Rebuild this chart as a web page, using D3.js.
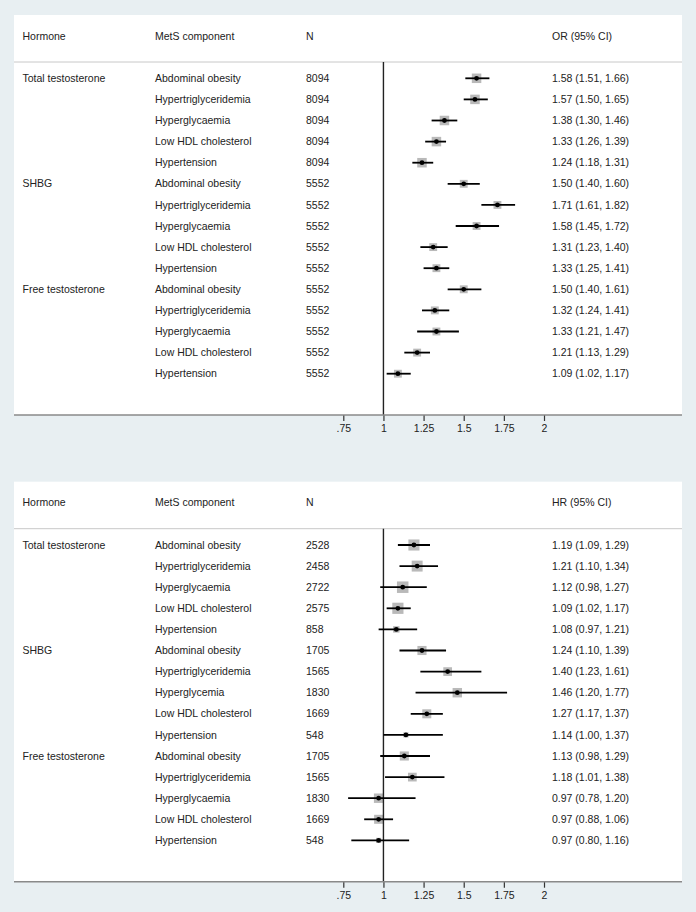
<!DOCTYPE html>
<html>
<head>
<meta charset="utf-8">
<script src="https://cdn.jsdelivr.net/npm/d3@7"></script>
<style>
  html, body { margin: 0; padding: 0; background: #e8eff2; }
  svg { display: block; }
  text { font-family: "Liberation Sans", Arial, sans-serif; font-size: 10.5px; fill: #222; }
</style>
</head>
<body>
<svg id="chart" width="696" height="912"></svg>
<script>
// ---------- data ----------
const hormones = ["Total testosterone", "SHBG", "Free testosterone"];
const componentsTop = ["Abdominal obesity", "Hypertriglyceridemia", "Hyperglycaemia", "Low HDL cholesterol", "Hypertension"];
const componentsBottom = [
  "Abdominal obesity", "Hypertriglyceridemia", "Hyperglycaemia", "Low HDL cholesterol", "Hypertension",
  "Abdominal obesity", "Hypertriglyceridemia", "Hyperglycemia", "Low HDL cholesterol", "Hypertension",
  "Abdominal obesity", "Hypertriglyceridemia", "Hyperglycaemia", "Low HDL cholesterol", "Hypertension"
];

// Top panel: odds ratios
const nTop = [8094, 8094, 8094, 8094, 8094, 5552, 5552, 5552, 5552, 5552, 5552, 5552, 5552, 5552, 5552];
const orEst = [1.58, 1.57, 1.38, 1.33, 1.24, 1.50, 1.71, 1.58, 1.31, 1.33, 1.50, 1.32, 1.33, 1.21, 1.09];
const orLow = [1.51, 1.50, 1.30, 1.26, 1.18, 1.40, 1.61, 1.45, 1.23, 1.25, 1.40, 1.24, 1.21, 1.13, 1.02];
const orHigh = [1.66, 1.65, 1.46, 1.39, 1.31, 1.60, 1.82, 1.72, 1.40, 1.41, 1.61, 1.41, 1.47, 1.29, 1.17];

// Bottom panel: hazard ratios
const nBottom = [2528, 2458, 2722, 2575, 858, 1705, 1565, 1830, 1669, 548, 1705, 1565, 1830, 1669, 548];
const hrEst = [1.19, 1.21, 1.12, 1.09, 1.08, 1.24, 1.40, 1.46, 1.27, 1.14, 1.13, 1.18, 0.97, 0.97, 0.97];
const hrLow = [1.09, 1.10, 0.98, 1.02, 0.97, 1.10, 1.23, 1.20, 1.17, 1.00, 0.98, 1.01, 0.78, 0.88, 0.80];
const hrHigh = [1.29, 1.34, 1.27, 1.17, 1.21, 1.39, 1.61, 1.77, 1.37, 1.37, 1.29, 1.38, 1.20, 1.06, 1.16];

const tickValues = [0.75, 1, 1.25, 1.5, 1.75, 2];
const tickLabels = [".75", "1", "1.25", "1.5", "1.75", "2"];
const headers = ["Hormone", "MetS component", "N"];

// ---------- drawing ----------
const svg = d3.select("#chart");
const x = d3.scaleLinear().domain([0.75, 2]).range([343.3, 544]);
const fmt = d3.format(".2f");

function drawPanel(offsetY, comps, ns, est, lo, hi, estLabel, maxSize) {
  const g = svg.append("g").attr("transform", `translate(0,${offsetY})`);
  const y = d3.scaleLinear().domain([0, est.length - 1]).range([78.3, 373.7]);
  const size = d3.scaleSqrt().domain([0, d3.max(ns)]).range([0, maxSize]);
  const idx = d3.range(est.length);

  // white panel
  g.append("rect").attr("x", 14).attr("y", 15).attr("width", 668).attr("height", 400).attr("fill", "#fff");

  // header
  const hx = [22.5, 155, 306];
  headers.forEach((h, i) => {
    g.append("text").attr("x", hx[i]).attr("y", 36).attr("dy", "0.35em").text(h);
  });
  g.append("text").attr("x", 552).attr("y", 36).attr("dy", "0.35em").text(estLabel);
  g.append("line").attr("x1", 14).attr("x2", 682).attr("y1", 62).attr("y2", 62)
    .attr("stroke", "#c8c8c8").attr("stroke-width", 1);

  // hormone labels
  hormones.forEach((h, k) => {
    g.append("text").attr("x", 22.5).attr("y", y(k * 5)).attr("dy", "0.35em").text(h);
  });
  // rows
  g.selectAll("text.comp").data(idx).join("text").attr("class", "comp")
    .attr("x", 155).attr("y", i => y(i)).attr("dy", "0.35em").text(i => comps[i]);
  g.selectAll("text.n").data(idx).join("text").attr("class", "n")
    .attr("x", 306).attr("y", i => y(i)).attr("dy", "0.35em").text(i => ns[i]);
  g.selectAll("text.est").data(idx).join("text").attr("class", "est")
    .attr("x", 552).attr("y", i => y(i)).attr("dy", "0.35em")
    .text(i => `${fmt(est[i])} (${fmt(lo[i])}, ${fmt(hi[i])})`);

  // squares
  g.selectAll("rect.w").data(idx).join("rect").attr("class", "w")
    .attr("x", i => x(est[i]) - size(ns[i]) / 2)
    .attr("y", i => y(i) - size(ns[i]) / 2)
    .attr("width", i => size(ns[i])).attr("height", i => size(ns[i]))
    .attr("fill", "#b9b9b9");

  // reference line
  g.append("line").attr("x1", x(1)).attr("x2", x(1)).attr("y1", 62).attr("y2", 415)
    .attr("stroke", "#222").attr("stroke-width", 1.4);

  // CIs
  g.selectAll("line.ci").data(idx).join("line").attr("class", "ci")
    .attr("x1", i => x(lo[i])).attr("x2", i => x(hi[i]))
    .attr("y1", i => y(i)).attr("y2", i => y(i))
    .attr("stroke", "#000").attr("stroke-width", 1.8);
  g.selectAll("circle.pt").data(idx).join("circle").attr("class", "pt")
    .attr("cx", i => x(est[i])).attr("cy", i => y(i)).attr("r", 2.4).attr("fill", "#000");

  // axis
  const axis = d3.axisBottom(x).tickValues(tickValues)
    .tickFormat((d, i) => tickLabels[i]).tickSize(6).tickSizeOuter(0);
  const ax = g.append("g").attr("transform", "translate(0,415)").call(axis);
  ax.select(".domain").remove();
  ax.selectAll(".tick line").attr("stroke", "#333").attr("stroke-width", 1.2);
  ax.selectAll(".tick text").attr("y", 10).attr("dy", "0.71em")
    .style("font-family", '"Liberation Sans", Arial, sans-serif').style("font-size", "10.5px").attr("fill", "#222");
  g.append("line").attr("x1", 14).attr("x2", 682).attr("y1", 415).attr("y2", 415)
    .attr("stroke", "#8a8a8a").attr("stroke-width", 1.6);
}

drawPanel(0, componentsTop.concat(componentsTop, componentsTop), nTop, orEst, orLow, orHigh, "OR (95% CI)", 9.5);
drawPanel(466.7, componentsBottom, nBottom, hrEst, hrLow, hrHigh, "HR (95% CI)", 11.5);
</script>
</body>
</html>
